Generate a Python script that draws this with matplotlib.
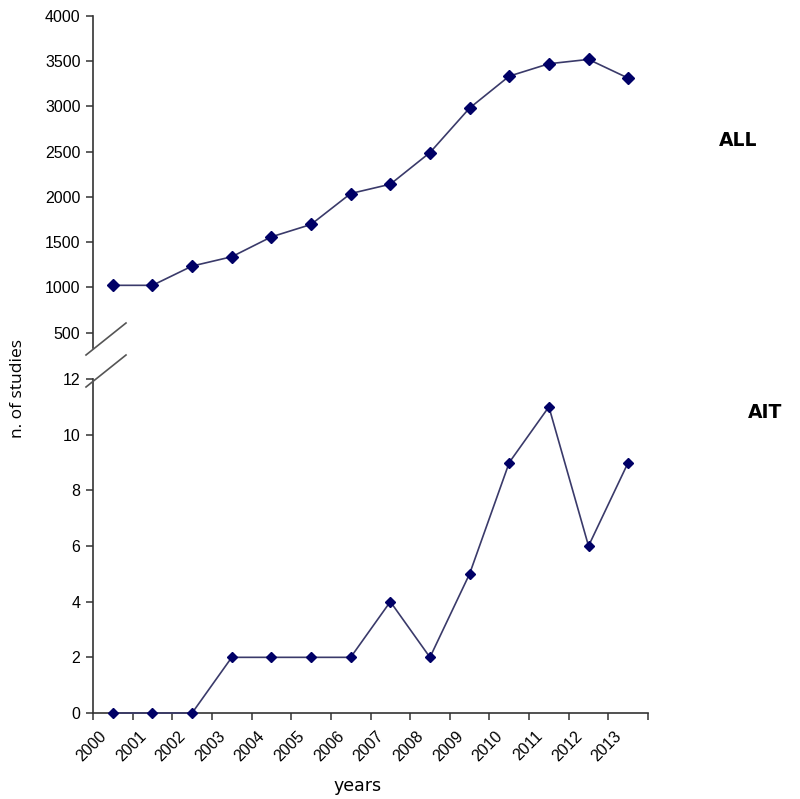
import matplotlib
matplotlib.use("Agg")
import matplotlib.pyplot as plt
from matplotlib.lines import Line2D
import matplotlib.transforms as mtransforms

years = ["2000", "2001", "2002", "2003", "2004", "2005", "2006",
         "2007", "2008", "2009", "2010", "2011", "2012", "2013"]
all_studies = [1022, 1022, 1235, 1338, 1558, 1695, 2037,
               2140, 2490, 2982, 3335, 3472, 3520, 3313]
ait_studies = [0, 0, 0, 2, 2, 2, 2, 4, 2, 5, 9, 11, 6, 9]

top_ticks = [500, 1000, 1500, 2000, 2500, 3000, 3500, 4000]
bottom_ticks = [0, 2, 4, 6, 8, 10, 12]

W, H = 800, 799
fig = plt.figure(figsize=(W / 100, H / 100), dpi=100)

def fx(px):
    return px / W

def fy(py):
    return 1 - py / H

left, right = 93, 648
ax_top = fig.add_axes([fx(left), fy(348), fx(right - left), fy(16) - fy(348)])
ax_bot = fig.add_axes([fx(left), fy(713), fx(right - left), fy(379) - fy(713)])

line_color = "#3a3a6a"
marker_color = "#000066"
axis_color = "#333333"
tick_font = dict(family="Liberation Sans", size=11.5)

xpos = [i + 0.5 for i in range(len(years))]

for ax in (ax_top, ax_bot):
    ax.set_xlim(0, len(years))
    for s in ("top", "right"):
        ax.spines[s].set_visible(False)
    ax.spines["left"].set_color(axis_color)
    ax.spines["bottom"].set_color(axis_color)
    ax.spines["left"].set_linewidth(1.2)
    ax.spines["bottom"].set_linewidth(1.2)
    ax.tick_params(axis="y", direction="out", length=5, width=1.1,
                   color=axis_color, pad=4)

# top panel
ax_top.plot(xpos, all_studies, color=line_color, lw=1.2, marker="D",
            markersize=6, markerfacecolor=marker_color,
            markeredgecolor=marker_color, clip_on=False, zorder=3)
ax_top.set_ylim(329, 4000)
ax_top.set_yticks(top_ticks)
ax_top.set_yticklabels([str(t) for t in top_ticks], **tick_font)
ax_top.spines["bottom"].set_visible(False)
ax_top.set_xticks([])

# bottom panel
ax_bot.plot(xpos, ait_studies, color=line_color, lw=1.2, marker="D",
            markersize=5, markerfacecolor=marker_color,
            markeredgecolor=marker_color, clip_on=False, zorder=3)
ax_bot.set_ylim(0, 12)
ax_bot.set_yticks(bottom_ticks)
ax_bot.set_yticklabels([str(t) for t in bottom_ticks], **tick_font)
ax_bot.set_xticks(range(len(years) + 1))
ax_bot.set_xticklabels(years + [""], rotation=45, ha="right", va="center",
                       rotation_mode="anchor", **tick_font)
ax_bot.tick_params(axis="x", direction="out", length=5, width=1.1,
                   color=axis_color, pad=10)
offset = mtransforms.ScaledTranslation(11 / 100, 0, fig.dpi_scale_trans)
for lab in ax_bot.get_xticklabels():
    lab.set_transform(lab.get_transform() + offset)

# break marks
for (x0, y0, x1, y1) in [(86, 355, 126, 323), (86, 387, 126, 355)]:
    fig.add_artist(Line2D([fx(x0), fx(x1)], [fy(y0), fy(y1)],
                          transform=fig.transFigure, color="#555555", lw=1.2))

# labels
fig.text(fx(18), fy(388), "n. of studies", rotation=90, ha="center",
         va="center", family="Open Sans", size=12.5)
fig.text(fx(358), fy(786), "years", ha="center", va="center",
         family="DejaVu Sans", size=12.5)
fig.text(fx(738), fy(140), "ALL", ha="center", va="center",
         family="DejaVu Sans", weight="bold", size=13.5)
fig.text(fx(765), fy(412), "AIT", ha="center", va="center",
         family="DejaVu Sans", weight="bold", size=13.5)

fig.savefig("out.png", dpi=100)
